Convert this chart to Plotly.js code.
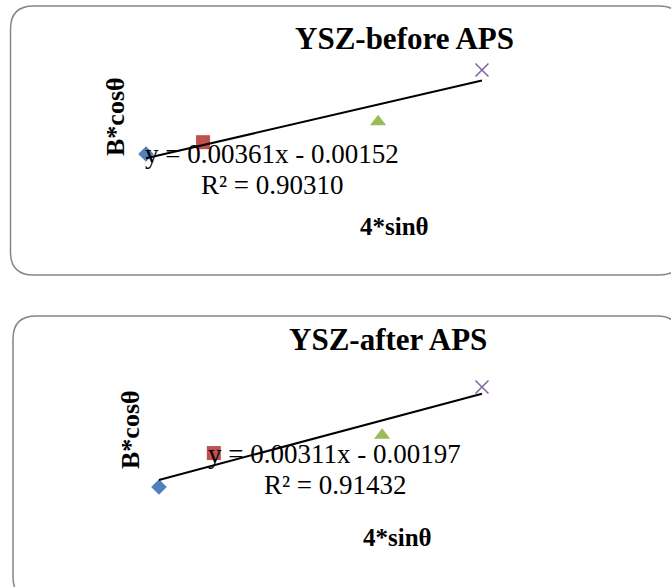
<!DOCTYPE html>
<html>
<head>
<meta charset="utf-8">
<script src="https://cdn.plot.ly/plotly-3.0.1.min.js"></script>
<style>
html, body { margin: 0; padding: 0; background: #ffffff; }
#chart { width: 671px; height: 587px; }
</style>
</head>
<body>
<div id="chart"></div>
<script>
// ---- data ----
const panelTitles = ['YSZ-before APS', 'YSZ-after APS'];
const xTitle = '4*sinθ';
const yTitle = 'B*cosθ';
const xBefore = [1.042, 1.203, 1.697, 1.990];
const yBefore = [0.00243, 0.00295, 0.00385, 0.00613];
const xAfter = [1.042, 1.203, 1.697, 1.990];
const yAfter = [0.00103, 0.00219, 0.00280, 0.00445];
const slopes = [0.00361, 0.00311];
const intercepts = [-0.00152, -0.00197];
const r2Values = [0.90310, 0.91432];
const pointColors = ['#4F81BD', '#C0504D', '#9BBB59', '#8064A2'];
const pointSymbols = ['diamond', 'square', 'triangle-up', 'x-thin-open'];

// ---- helpers ----
const W = 671, H = 587;
const px = v => v / W;
const py = v => 1 - v / H;
const FONT = 'Liberation Serif, Times New Roman, serif';

function roundRectPath(x0, y0, x1, y1, r) {
  const P = (x, y) => px(x).toFixed(5) + ',' + py(y).toFixed(5);
  return 'M' + P(x0 + r, y0) +
    ' L' + P(x1 - r, y0) + ' Q' + P(x1, y0) + ' ' + P(x1, y0 + r) +
    ' L' + P(x1, y1 - r) + ' Q' + P(x1, y1) + ' ' + P(x1 - r, y1) +
    ' L' + P(x0 + r, y1) + ' Q' + P(x0, y1) + ' ' + P(x0, y1 - r) +
    ' L' + P(x0, y0 + r) + ' Q' + P(x0, y0) + ' ' + P(x0 + r, y0) + ' Z';
}

const xs = [xBefore, xAfter];
const ys = [yBefore, yAfter];
const traces = [];
for (let i = 0; i < 2; i++) {
  const ax = i === 0 ? '' : '2';
  traces.push({
    type: 'scatter', mode: 'markers',
    x: xs[i], y: ys[i],
    xaxis: 'x' + ax, yaxis: 'y' + ax,
    marker: {
      symbol: pointSymbols,
      color: pointColors,
      opacity: 1,
      size: [12, 14, 14, 13],
      line: { color: pointColors, width: [0, 0, 0, 1.5] }
    },
    hoverinfo: 'skip', showlegend: false
  });
  const xmin = Math.min(...xs[i]), xmax = Math.max(...xs[i]);
  traces.push({
    type: 'scatter', mode: 'lines',
    x: [xmin, xmax],
    y: [slopes[i] * xmin + intercepts[i], slopes[i] * xmax + intercepts[i]],
    xaxis: 'x' + ax, yaxis: 'y' + ax,
    line: { color: '#000000', width: 2 },
    hoverinfo: 'skip', showlegend: false
  });
}

const hiddenAxis = {
  showgrid: false, zeroline: false, showline: false,
  showticklabels: false, ticks: '', fixedrange: true
};

function eqText(i) {
  const sign = intercepts[i] < 0 ? ' - ' : ' + ';
  return 'y = ' + slopes[i].toFixed(5) + 'x' + sign + Math.abs(intercepts[i]).toFixed(5);
}

const annotations = [
  // panel titles
  { text: '<b>' + panelTitles[0] + '</b>', x: px(404), y: py(38), font: { size: 31 } },
  { text: '<b>' + panelTitles[1] + '</b>', x: px(388), y: py(339), font: { size: 31 } },
  // axis titles
  { text: '<b>' + xTitle + '</b>', x: px(394), y: py(227), font: { size: 25 } },
  { text: '<b>' + xTitle + '</b>', x: px(397), y: py(537), font: { size: 25 } },
  { text: '<b>' + yTitle + '</b>', x: px(115), y: py(117), font: { size: 26 }, textangle: -90 },
  { text: '<b>' + yTitle + '</b>', x: px(130), y: py(430), font: { size: 26 }, textangle: -90 },
  // trendline equations
  { text: eqText(0), x: px(272), y: py(154), font: { size: 27 } },
  { text: 'R² = ' + r2Values[0].toFixed(5), x: px(272), y: py(185), font: { size: 27 } },
  { text: eqText(1), x: px(334), y: py(454), font: { size: 27 } },
  { text: 'R² = ' + r2Values[1].toFixed(5), x: px(335), y: py(485), font: { size: 27 } }
].map(a => Object.assign({
  xref: 'paper', yref: 'paper', showarrow: false,
  xanchor: 'center', yanchor: 'middle'
}, a, { font: Object.assign({ family: FONT, color: '#000000' }, a.font) }));

const layout = {
  width: W, height: H,
  margin: { l: 0, r: 0, t: 0, b: 0 },
  paper_bgcolor: '#ffffff', plot_bgcolor: 'rgba(0,0,0,0)',
  showlegend: false,
  font: { family: FONT, color: '#000000' },
  xaxis: Object.assign({}, hiddenAxis, { domain: [px(128), px(662)], range: [0.9912, 2.498], anchor: 'y' }),
  yaxis: Object.assign({}, hiddenAxis, { domain: [py(205), py(55)], range: [0.000184, 0.006791], anchor: 'x' }),
  xaxis2: Object.assign({}, hiddenAxis, { domain: [px(130), px(664)], range: [0.9569, 2.5243], anchor: 'y2' }),
  yaxis2: Object.assign({}, hiddenAxis, { domain: [py(510), py(360)], range: [0.000243, 0.005373], anchor: 'x2' }),
  shapes: [
    { type: 'path', xref: 'paper', yref: 'paper', path: roundRectPath(10.5, 6, 682, 275, 23),
      line: { color: '#868686', width: 1.5 }, layer: 'below' },
    { type: 'path', xref: 'paper', yref: 'paper', path: roundRectPath(13, 316, 680, 600, 23),
      line: { color: '#868686', width: 1.5 }, layer: 'below' }
  ],
  annotations: annotations
};

Plotly.newPlot('chart', traces, layout, { staticPlot: true, displayModeBar: false });
</script>
</body>
</html>
